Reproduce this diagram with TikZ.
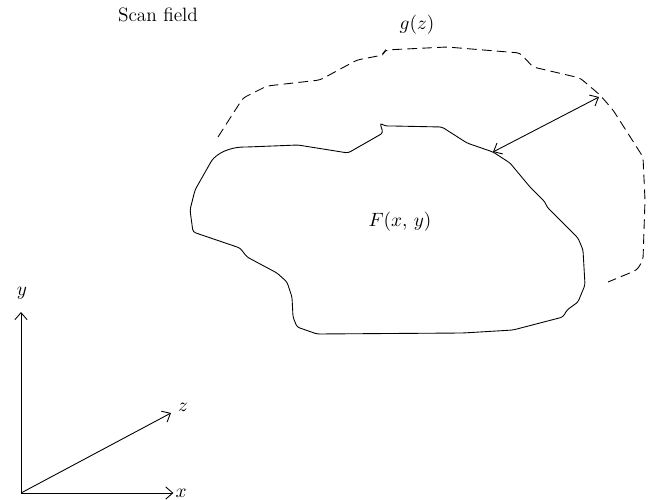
\documentclass[tikz,border=0pt]{standalone}
\usepackage{amsmath}
\usepackage{tikz}
\usetikzlibrary{arrows.meta}

\tikzset{
  tip/.style={-{Straight Barb[length=4pt,width=7pt]}},
  bothtip/.style={{Straight Barb[length=4pt,width=7pt]}-{Straight Barb[length=4pt,width=7pt]}},
  outline/.style={line width=0.5pt,rounded corners=1.5pt},
  scanline/.style={line width=0.5pt,dash pattern=on 5.5pt off 3pt,rounded corners=2pt},
  lbl/.style={inner sep=1pt,font=\fontsize{11}{13}\selectfont}
}

\begin{document}
\begin{tikzpicture}[x=0.02cm,y=-0.02cm]
    \useasboundingbox (0,0) rectangle (649,500);
    % labels
    \node (scan) at (158,15) [lbl]{Scan field};
    \node (gz) at (417,25) [lbl]{$g(z)$};
    \node (fxy) at (400,222) [lbl]{$F(x,\,y)$};
    % object boundary
    \draw[outline] (212,160) .. controls (222,150) and (235,147) .. (247,147)
      -- (298,145) -- (348,153) -- (383,133) -- (380,123) -- (385,126) -- (393,126)
      -- (442,127) -- (467,143) -- (493,152) -- (510,163) -- (530,187) -- (545,202)
      -- (547,207) -- (578,238) -- (583,250) -- (585,285) -- (578,302) -- (567,310)
      -- (563,317) -- (513,330) -- (463,333) -- (317,334) -- (297,327) -- (293,317)
      -- (292,297) -- (287,282) -- (277,273) -- (247,257) -- (240,248) -- (193,232)
      -- (190,210) -- (195,190) -- cycle;
    % scan surface
    \draw[scanline] (218,137) -- (243,98) -- (267,86) -- (320,80) -- (357,60)
      -- (383,55) -- (385,50) -- (447,47) -- (520,53) -- (533,67) -- (580,78)
      -- (600,95) -- (613,110) -- (643,157) -- (645,200) -- (643,260)
      -- (637,270) -- (608,282);
    % distance
    \coordinate (near) at (493,152);
    \coordinate (far) at (599,97);
    \draw[bothtip,line width=0.5pt] (near) -- (far);
    % axes
    \coordinate (o) at (21,493);
    \node (y) at (22,293) [lbl]{$y$};
    \node (z) at (183,407) [lbl]{$z$};
    \node (x) at (181,493) [lbl]{$x$};
    \draw[tip,line width=0.5pt] (o) -- (21,312);
    \draw[tip,line width=0.5pt] (o) -- (171,413);
    \draw[tip,line width=0.5pt] (o) -- (x.west);
\end{tikzpicture}
\end{document}
